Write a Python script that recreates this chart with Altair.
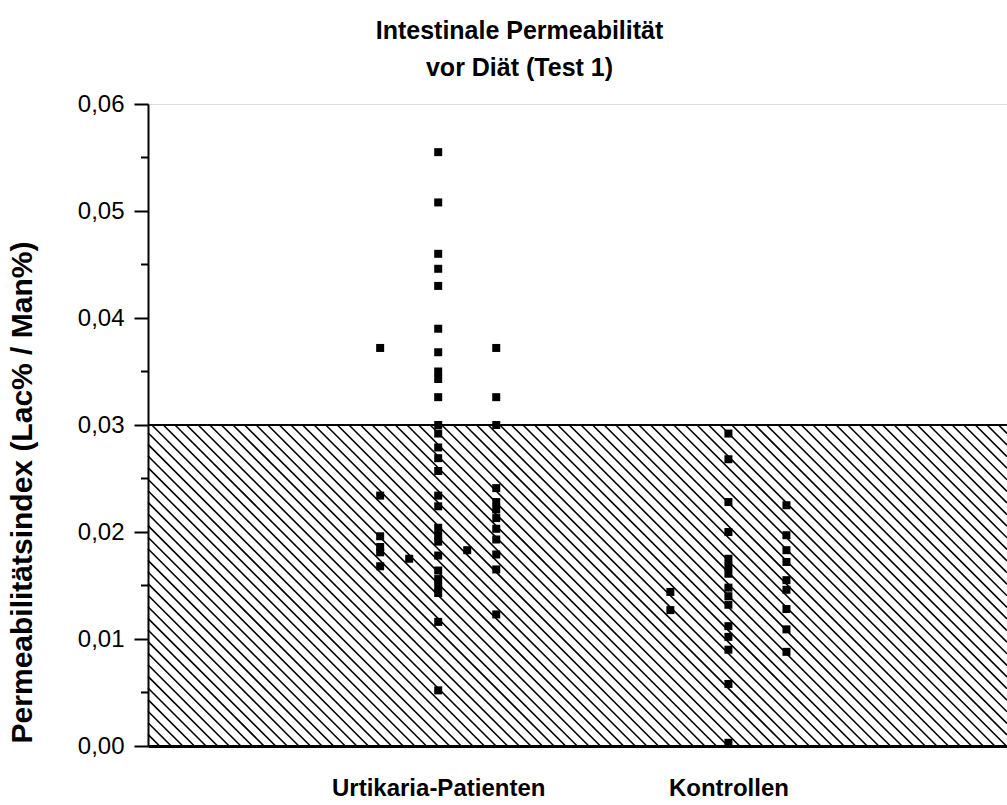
import altair as alt
import pandas as pd

# ---- data ----
# x positions: Urtikaria-Patienten columns 8..12 (centre 10), Kontrollen 18, 20, 22 (centre 20)
col8 = [0.0372, 0.0234, 0.0196, 0.0186, 0.0181, 0.0168]
col9 = [0.0175]
col10 = [0.0555, 0.0508, 0.0460, 0.0446, 0.0430, 0.0390, 0.0368, 0.0350, 0.0343,
         0.0326, 0.0300, 0.0292, 0.0279, 0.0269, 0.0257, 0.0234, 0.0224, 0.0204,
         0.0197, 0.0191, 0.0178, 0.0164, 0.0156, 0.0149, 0.0143, 0.0116, 0.0052]
col11 = [0.0183]
col12 = [0.0372, 0.0326, 0.0300, 0.0241, 0.0228, 0.0221, 0.0213, 0.0203, 0.0193,
         0.0179, 0.0165, 0.0123]
col18 = [0.0144, 0.0127]
col20 = [0.0292, 0.0268, 0.0228, 0.0200, 0.0175, 0.0168, 0.0161, 0.0148, 0.0140,
         0.0132, 0.0112, 0.0102, 0.0090, 0.0058, 0.0003]
col22 = [0.0225, 0.0197, 0.0183, 0.0172, 0.0155, 0.0146, 0.0128, 0.0109, 0.0088]

group_positions = [10, 20]
group_labels = ["Urtikaria-Patienten", "Kontrollen"]
y_major = [0.00, 0.01, 0.02, 0.03, 0.04, 0.05, 0.06]
y_minor = [0.005, 0.015, 0.025, 0.035, 0.045, 0.055]
threshold = 0.03

X_MAX = 29.6
Y_MAX = 0.06
W, H = 859, 642

rows = []
for xpos, vals in [(8, col8), (9, col9), (10, col10), (11, col11), (12, col12),
                   (18, col18), (20, col20), (22, col22)]:
    for v in vals:
        rows.append({"x": xpos, "y": v})
pts = pd.DataFrame(rows)

# ---- hatch pattern for the normal range (0 .. threshold) ----
pxu = W / X_MAX
pyu = H / Y_MAX
h = threshold * pyu
spacing = 11.6
hatch = []
c = -h
while c < W:
    sx1 = max(0.0, c)
    sx2 = min(W, c + h)
    if sx2 > sx1:
        hatch.append({"x": sx1 / pxu, "y": threshold - (sx1 - c) / pyu,
                      "x2": sx2 / pxu, "y2": threshold - (sx2 - c) / pyu})
    c += spacing
hatch_df = pd.DataFrame(hatch)

xscale = alt.Scale(domain=[0, X_MAX], nice=False, zero=False)
yscale = alt.Scale(domain=[0, Y_MAX], nice=False)

FONT = "Liberation Sans"

label_expr = " : ".join(
    [f"datum.value == {p} ? '{l}'" for p, l in zip(group_positions, group_labels)]) + " : ''"

hatch_layer = alt.Chart(hatch_df).mark_rule(color="black", strokeWidth=1.6).encode(
    x=alt.X("x:Q", scale=xscale,
            axis=alt.Axis(values=group_positions, labelExpr=label_expr, ticks=False,
                          grid=False, title=None, labelFont=FONT, labelFontSize=24,
                          labelFontWeight="bold", labelColor="black", labelPadding=30,
                          labelLimit=600, labelOverlap=False,
                          domainColor="black", domainWidth=3, zindex=1)),
    x2="x2:Q",
    y=alt.Y("y:Q", scale=yscale,
            axis=alt.Axis(values=y_major,
                          labelExpr="replace(format(datum.value, '.2f'), '.', ',')",
                          tickSize=14, tickWidth=2, tickColor="black", grid=False,
                          domainColor="black", domainWidth=2, labelFont=FONT,
                          labelFontSize=24, labelColor="black", labelPadding=10,
                          title="Permeabilitätsindex (Lac% / Man%)", titleFont=FONT,
                          titleFontSize=30, titleFontWeight="bold", titleColor="black",
                          titleAngle=270, titleX=-126, titleY=388, titleAlign="center",
                          titleBaseline="middle", titleLimit=800, zindex=1)),
    y2="y2:Q",
)

thr_df = pd.DataFrame({"y": [threshold]})
thr_layer = alt.Chart(thr_df).mark_rule(color="black", strokeWidth=2).encode(
    y=alt.Y("y:Q", scale=yscale), x=alt.value(0), x2=alt.value(W))

minor_df = pd.DataFrame({"y": y_minor})
minor_layer = alt.Chart(minor_df).mark_rule(color="black", strokeWidth=2).encode(
    y=alt.Y("y:Q", scale=yscale), x=alt.value(-7), x2=alt.value(0))

pts_layer = alt.Chart(pts).mark_square(size=64, color="black", opacity=1).encode(
    x=alt.X("x:Q", scale=xscale), y=alt.Y("y:Q", scale=yscale))

chart = alt.layer(hatch_layer, thr_layer, minor_layer, pts_layer).properties(
    width=W, height=H,
    title=alt.TitleParams(["Intestinale Permeabilität", "vor Diät (Test 1)"],
                          font=FONT, fontSize=25, fontWeight="bold", color="black",
                          anchor="middle", dx=-58, lineHeight=37, offset=11),
    autosize=alt.AutoSizeParams(type="none"),
    padding={"left": 148, "top": 104, "right": 0, "bottom": 59},
).configure_view(stroke=None).configure(background="white")

chart.save("out.html", embed_options={"renderer": "svg", "actions": False})
